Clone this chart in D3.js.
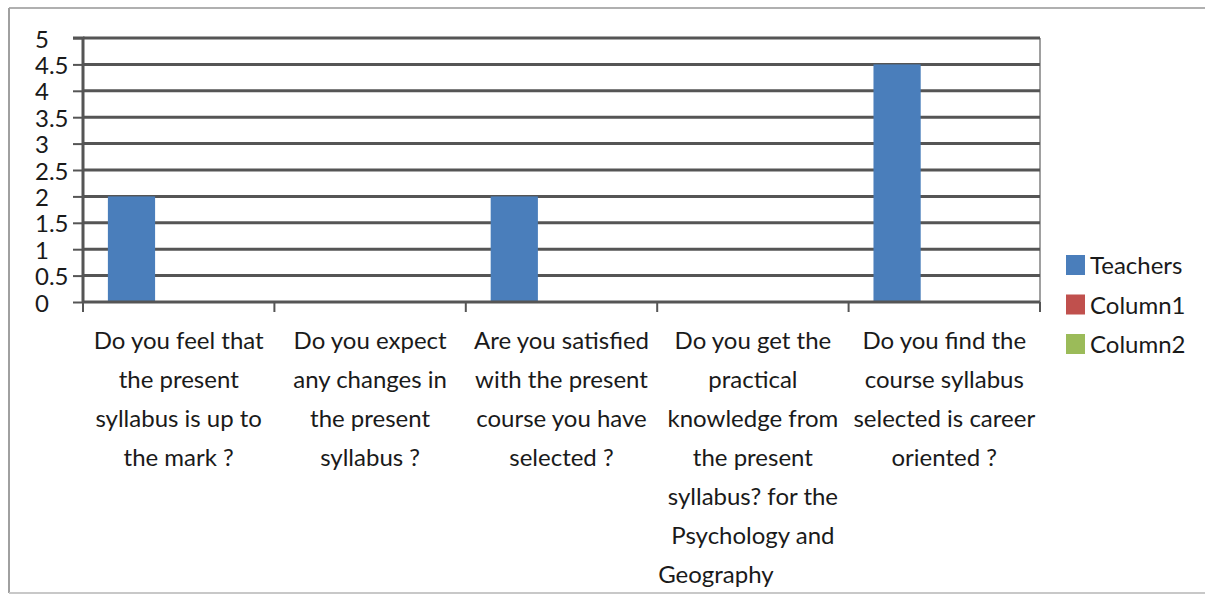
<!DOCTYPE html>
<html>
<head>
<meta charset="utf-8">
<script src="https://cdn.jsdelivr.net/npm/d3@7/dist/d3.min.js"></script>
<style>
  html, body { margin: 0; padding: 0; background: #fff; }
  svg { display: block; }
  text { font-family: Lato, "Open Sans", sans-serif; fill: #1a1a1a; }
</style>
</head>
<body>
<script>
// ---- data ----
const categories = [
  "Do you feel that the present syllabus is up to the mark ?",
  "Do you expect any changes in the present syllabus ?",
  "Are you satisfied with the present course you have selected ?",
  "Do you get the practical knowledge from the present syllabus? for the Psychology and Geography",
  "Do you find the course syllabus selected is career oriented ?"
];
const categoryLines = [
  ["Do you feel that", "the present", "syllabus is up to", "the mark ?"],
  ["Do you expect", "any changes in", "the present", "syllabus ?"],
  ["Are you satisfied", "with the present", "course you have", "selected ?"],
  ["Do you get the", "practical", "knowledge from", "the present", "syllabus? for the", "Psychology and", "Geography"],
  ["Do you find the", "course syllabus", "selected is career", "oriented ?"]
];
const seriesNames = ["Teachers", "Column1", "Column2"];
const teachers = [2, 0, 2, 0, 4.5];
const column1 = [0, 0, 0, 0, 0];
const column2 = [0, 0, 0, 0, 0];
const yTicks = [0, 0.5, 1, 1.5, 2, 2.5, 3, 3.5, 4, 4.5, 5];
const colors = ["#4a7ebb", "#c0504d", "#9bbb59"];

const W = 1205, H = 597;
const svg = d3.select("body").append("svg").attr("width", W).attr("height", H);

// outer frame
svg.append("line").attr("x1", 9).attr("x2", W).attr("y1", 8).attr("y2", 8).attr("stroke", "#b0b0b0").attr("stroke-width", 2);
svg.append("line").attr("x1", 9).attr("x2", 9).attr("y1", 8).attr("y2", 593).attr("stroke", "#a0a0a0").attr("stroke-width", 2);
svg.append("line").attr("x1", 9).attr("x2", W).attr("y1", 593).attr("y2", 593).attr("stroke", "#c8c8c8").attr("stroke-width", 2);

const plot = { left: 83, right: 1040, top: 38, bottom: 302 };

const x0 = d3.scaleBand().domain(d3.range(categories.length)).range([plot.left, plot.right]).padding(0);
const bw = x0.bandwidth();
const x1 = d3.scaleBand().domain(seriesNames).range([bw * 0.13, bw * 0.87]).padding(0);
const y = d3.scaleLinear().domain([0, 5]).range([plot.bottom, plot.top]);

// right border of plot
svg.append("line").attr("x1", plot.right).attr("x2", plot.right).attr("y1", plot.top).attr("y2", plot.bottom)
  .attr("stroke", "#a0a0a0").attr("stroke-width", 2);

// gridlines
svg.append("g").selectAll("line").data(yTicks.filter(d => d > 0)).join("line")
  .attr("x1", plot.left).attr("x2", plot.right)
  .attr("y1", d => y(d)).attr("y2", d => y(d))
  .attr("stroke", "#555").attr("stroke-width", 3);

// bars
const seriesData = [teachers, column1, column2];
const gBars = svg.append("g");
seriesNames.forEach((s, si) => {
  gBars.selectAll(null).data(seriesData[si]).join("rect")
    .attr("x", (d, i) => x0(i) + x1(s))
    .attr("width", x1.bandwidth())
    .attr("y", d => y(d))
    .attr("height", d => y(0) - y(d))
    .attr("fill", colors[si]);
});

// y axis
const yAxis = d3.axisLeft(y).tickValues(yTicks).tickSize(10).tickFormat("");
const gy = svg.append("g").attr("transform", `translate(${plot.left},0)`).call(yAxis);
gy.select(".domain").attr("stroke", "#555").attr("stroke-width", 3).attr("d", `M-10,${plot.top}H0V${plot.bottom}`);
gy.selectAll(".tick line").attr("stroke", "#555").attr("stroke-width", 2);
svg.append("g").selectAll("text").data(yTicks).join("text")
  .attr("x", 35).attr("y", d => y(d)).attr("dy", "0.4em")
  .attr("font-size", 24).attr("text-anchor", "start")
  .text(d => String(d));

// x axis
const boundaries = d3.range(categories.length + 1).map(i => i < categories.length ? x0(i) : plot.right);
svg.append("line").attr("x1", plot.left).attr("x2", plot.right).attr("y1", y(0)).attr("y2", y(0))
  .attr("stroke", "#555").attr("stroke-width", 3);
svg.append("g").selectAll("line").data(boundaries).join("line")
  .attr("x1", d => d).attr("x2", d => d).attr("y1", y(0)).attr("y2", y(0) + 10)
  .attr("stroke", "#555").attr("stroke-width", 2);

// category labels
const gLab = svg.append("g");
categoryLines.forEach((lines, i) => {
  const cx = x0(i) + bw / 2;
  lines.forEach((ln, j) => {
    const last = (i === 3 && j === lines.length - 1);
    gLab.append("text")
      .attr("x", last ? x0(i) + 1 : cx)
      .attr("y", 349 + j * 39)
      .attr("text-anchor", last ? "start" : "middle")
      .attr("font-size", 24)
      .text(ln);
  });
});

// legend
const lg = svg.append("g");
seriesNames.forEach((s, i) => {
  const cy = 265 + i * 39.5;
  lg.append("rect").attr("x", 1066).attr("y", cy - 10).attr("width", 19).attr("height", 20).attr("fill", colors[i]);
  lg.append("text").attr("x", 1090).attr("y", cy).attr("dy", "0.38em").attr("font-size", 24).text(s);
});
</script>
</body>
</html>
